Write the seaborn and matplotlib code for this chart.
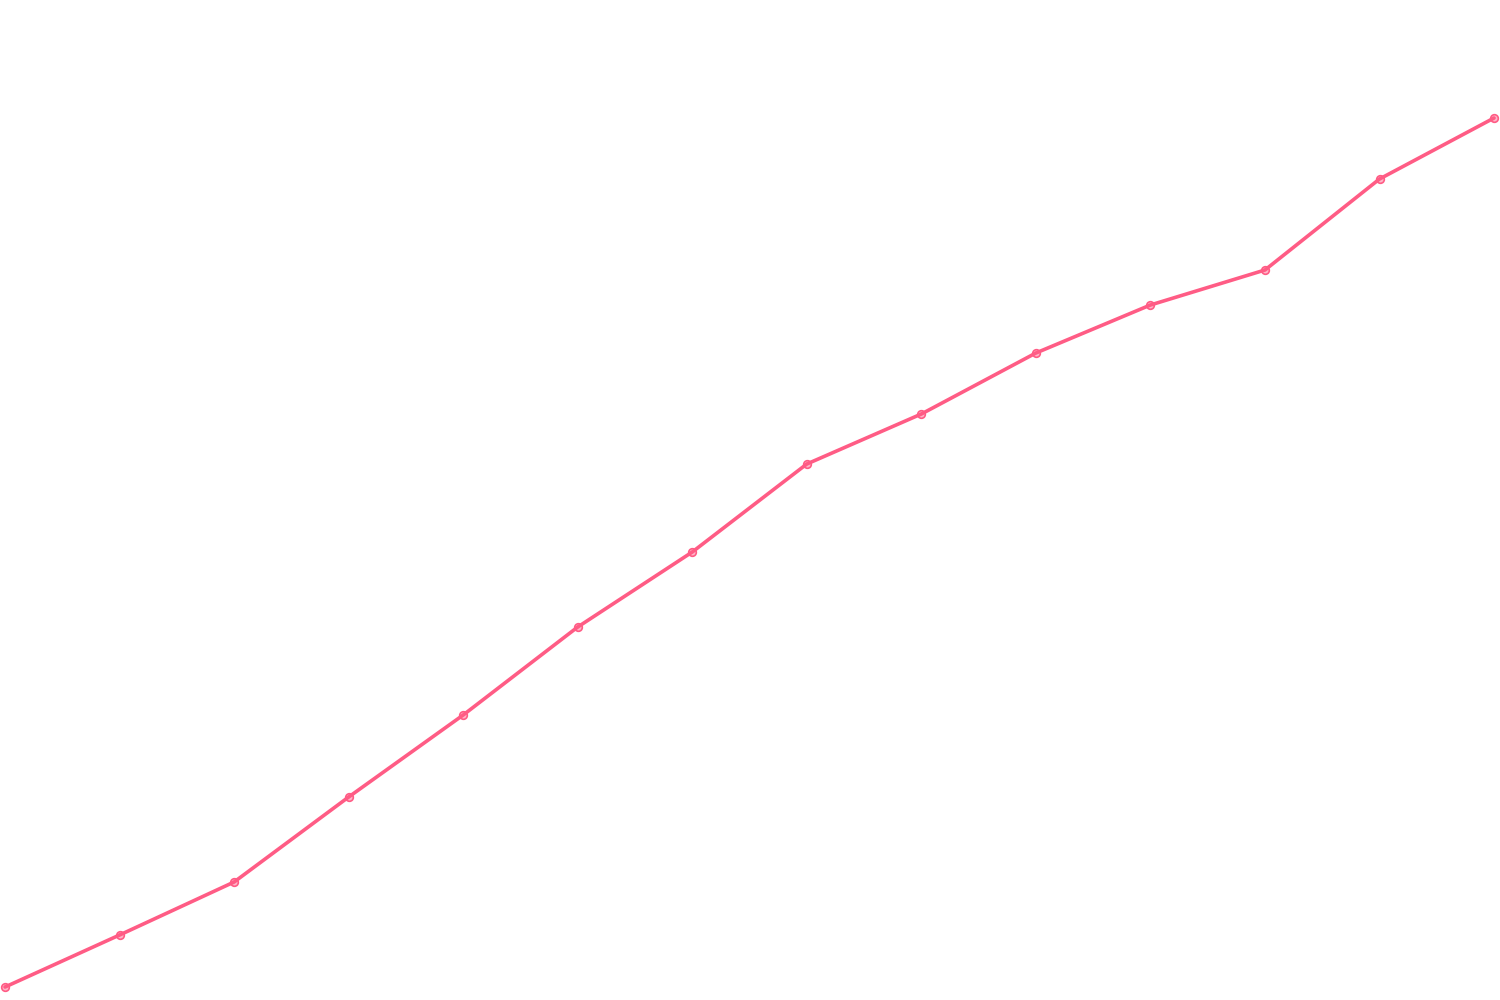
import matplotlib
matplotlib.use("Agg")
import matplotlib.pyplot as plt
import seaborn as sns
import pandas as pd

# values (arbitrary 0-100 scale)
steps = list(range(14))
values = [1.3, 6.5, 11.8, 20.3, 28.5, 37.3, 44.8, 53.6, 58.6, 64.7, 69.5, 73.0, 82.1, 88.2]

line_color = "#FF5C85"

df = pd.DataFrame({"step": steps, "value": values})

sns.set_theme(style="white")
fig = plt.figure(figsize=(15, 10), dpi=100)
ax = fig.add_axes([0, 0, 1, 1])

sns.lineplot(data=df, x="step", y="value", ax=ax, color=line_color, linewidth=2.6,
             marker="o", markersize=5.5, markerfacecolor=(1.0, 0.36, 0.52, 0.45),
             markeredgecolor=line_color, markeredgewidth=1.2)

ax.set_xlim(-0.044, 13.052)
ax.set_ylim(0, 100)
ax.set_axis_off()

fig.savefig("out.png", dpi=100, facecolor="white")
